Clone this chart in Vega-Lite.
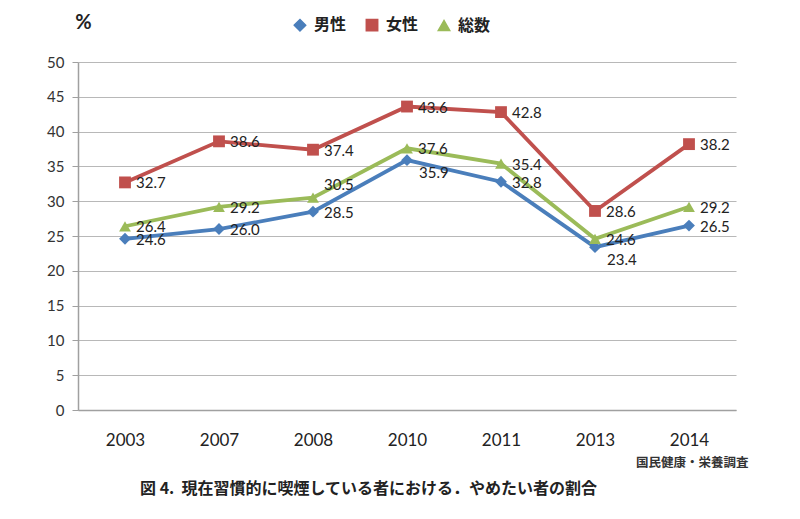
{
  "$schema": "https://vega.github.io/schema/vega-lite/v6.json",
  "width": 658,
  "height": 348,
  "autosize": {"type": "none"},
  "padding": {"left": 78, "top": 62, "right": 64, "bottom": 109},
  "background": "white",
  "config": {
    "view": {"stroke": null},
    "font": "Lato",
    "title": {"font": "Noto Sans CJK JP"}
  },
  "title": {
    "text": "図 4.\u00a0\u00a0現在習慣的に喫煙している者における．やめたい者の割合",
    "orient": "bottom",
    "anchor": "start",
    "frame": "group",
    "dx": 62,
    "offset": 12,
    "fontSize": 16,
    "fontWeight": "bold",
    "color": "#222222",
    "font": "Noto Sans CJK JP"
  },
  "data": {
    "values": [
      {"year": "2003", "series": "男性", "value": 24.6},
      {"year": "2007", "series": "男性", "value": 26.0},
      {"year": "2008", "series": "男性", "value": 28.5},
      {"year": "2010", "series": "男性", "value": 35.9},
      {"year": "2011", "series": "男性", "value": 32.8},
      {"year": "2013", "series": "男性", "value": 23.4},
      {"year": "2014", "series": "男性", "value": 26.5},
      {"year": "2003", "series": "女性", "value": 32.7},
      {"year": "2007", "series": "女性", "value": 38.6},
      {"year": "2008", "series": "女性", "value": 37.4},
      {"year": "2010", "series": "女性", "value": 43.6},
      {"year": "2011", "series": "女性", "value": 42.8},
      {"year": "2013", "series": "女性", "value": 28.6},
      {"year": "2014", "series": "女性", "value": 38.2},
      {"year": "2003", "series": "総数", "value": 26.4},
      {"year": "2007", "series": "総数", "value": 29.2},
      {"year": "2008", "series": "総数", "value": 30.5},
      {"year": "2010", "series": "総数", "value": 37.6},
      {"year": "2011", "series": "総数", "value": 35.4},
      {"year": "2013", "series": "総数", "value": 24.6},
      {"year": "2014", "series": "総数", "value": 29.2}
    ]
  },
  "encoding": {
    "x": {
      "field": "year",
      "type": "ordinal",
      "scale": {"type": "point", "padding": 0.5},
      "axis": {
        "title": "国民健康・栄養調査",
        "titleFont": "Noto Sans CJK JP",
        "titleFontSize": 12.5,
        "titleFontWeight": "bold",
        "titleColor": "#333333",
        "titleAlign": "right",
        "titleAnchor": null,
        "titleX": 670,
        "titleY": 52,
        "titleBaseline": "middle",
        "labelAngle": 0,
        "labelFontSize": 17,
        "labelColor": "#222222",
        "labelPadding": 22,
        "ticks": false,
        "domainColor": "#a0a0a0",
        "domainWidth": 1.5,
        "grid": false
      }
    },
    "y": {
      "field": "value",
      "type": "quantitative",
      "scale": {"domain": [0, 50], "nice": false, "zero": true},
      "axis": {
        "values": [0, 5, 10, 15, 20, 25, 30, 35, 40, 45, 50],
        "title": "%",
        "titleAngle": 0,
        "titleX": 5,
        "titleY": -40,
        "titleAlign": "center",
        "titleBaseline": "middle",
        "titleFontSize": 20,
        "titleFontWeight": "bold",
        "titleColor": "#222222",
        "titleFont": "Lato",
        "labelFontSize": 15,
        "labelColor": "#333333",
        "labelPadding": 8,
        "tickSize": 6,
        "tickColor": "#a0a0a0",
        "domainColor": "#a0a0a0",
        "domainWidth": 1.5,
        "grid": true,
        "gridColor": "#b8b8b8",
        "gridWidth": 1.2
      }
    },
    "color": {
      "field": "series",
      "type": "nominal",
      "scale": {"domain": ["男性", "女性", "総数"], "range": ["#4A7EBB", "#C0504D", "#9BBB59"]},
      "legend": {
        "title": null,
        "orient": "none",
        "direction": "horizontal",
        "legendX": 214,
        "legendY": -45,
        "labelFont": "Noto Sans CJK JP",
        "labelFontSize": 16,
        "labelFontWeight": "bold",
        "labelColor": "#222222",
        "symbolSize": 130,
        "columnPadding": 16,
        "labelOffset": 6
      }
    },
    "shape": {
      "field": "series",
      "type": "nominal",
      "scale": {"domain": ["男性", "女性", "総数"], "range": ["diamond", "square", "triangle-up"]},
      "legend": null
    }
  },
  "layer": [
    {
      "mark": {"type": "line", "strokeWidth": 3.8},
      "encoding": {"detail": {"field": "series"}}
    },
    {
      "mark": {"type": "point", "filled": true, "size": 140, "opacity": 1}
    },
    {
      "transform": [{"filter": "!((datum.series == '男性' && (datum.year == '2013' || datum.year == '2010')) || (datum.series == '総数' && datum.year == '2008'))"}],
      "mark": {"type": "text", "align": "left", "baseline": "middle", "dx": 11, "dy": 1, "fontSize": 15, "color": "#222222", "font": "Lato"},
      "encoding": {
        "text": {"field": "value", "type": "quantitative", "format": ".1f"},
        "color": {"value": "#222222"},
        "shape": null
      }
    },
    {
      "transform": [{"filter": "datum.series == '男性' && (datum.year == '2013' || datum.year == '2010')"}],
      "mark": {"type": "text", "align": "left", "baseline": "middle", "dx": 12, "dy": 13, "fontSize": 15, "color": "#222222", "font": "Lato"},
      "encoding": {
        "text": {"field": "value", "type": "quantitative", "format": ".1f"},
        "color": {"value": "#222222"},
        "shape": null
      }
    },
    {
      "transform": [{"filter": "datum.series == '総数' && datum.year == '2008'"}],
      "mark": {"type": "text", "align": "left", "baseline": "middle", "dx": 11, "dy": -13, "fontSize": 15, "color": "#222222", "font": "Lato"},
      "encoding": {
        "text": {"field": "value", "type": "quantitative", "format": ".1f"},
        "color": {"value": "#222222"},
        "shape": null
      }
    }
  ]
}
